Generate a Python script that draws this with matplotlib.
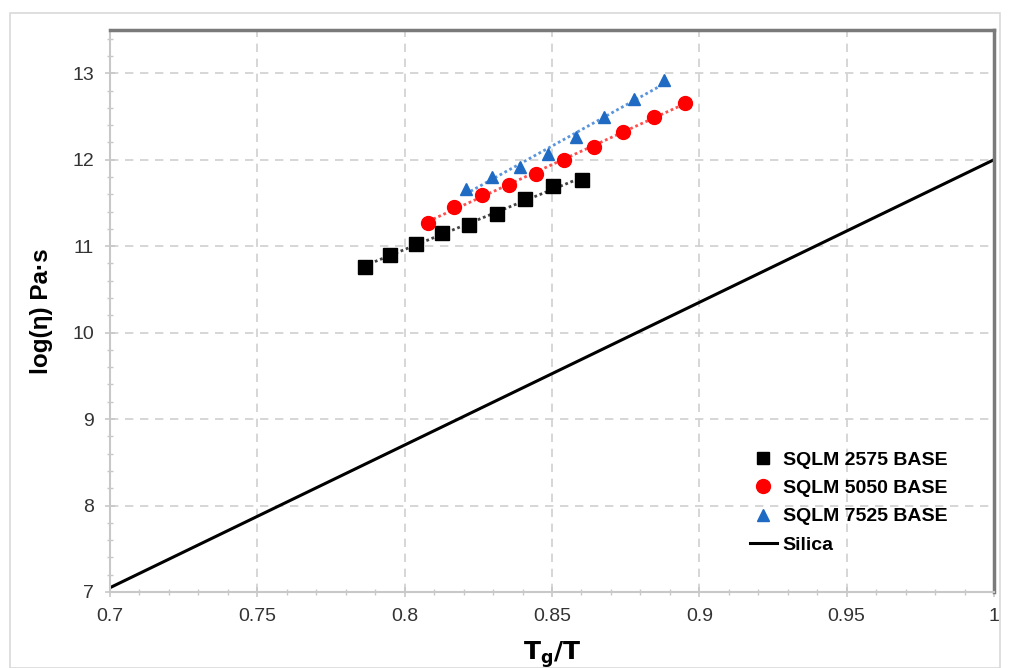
import numpy as np
import matplotlib
matplotlib.use("Agg")
import matplotlib.pyplot as plt
from matplotlib.lines import Line2D
from matplotlib.patches import Rectangle
from matplotlib.ticker import MultipleLocator, FuncFormatter

plt.rcParams['font.family'] = ['Liberation Sans', 'DejaVu Sans']

# Data
x_2575 = [0.7864, 0.7949, 0.8037, 0.8125, 0.8217, 0.8312, 0.8407, 0.8505, 0.8603]
y_2575 = [10.76, 10.90, 11.02, 11.15, 11.24, 11.37, 11.55, 11.69, 11.77]
x_5050 = [0.8080, 0.8167, 0.8261, 0.8354, 0.8447, 0.8542, 0.8642, 0.8741, 0.8845, 0.8953]
y_5050 = [11.27, 11.45, 11.59, 11.71, 11.84, 12.00, 12.15, 12.32, 12.49, 12.66]
x_7525 = [0.8207, 0.8297, 0.8391, 0.8486, 0.8580, 0.8678, 0.8777, 0.8879]
y_7525 = [11.66, 11.80, 11.92, 12.07, 12.26, 12.49, 12.70, 12.92]
x_silica = [0.7, 1.0]
y_silica = [7.05, 12.0]

labels = ["SQLM 2575 BASE", "SQLM 5050 BASE", "SQLM 7525 BASE", "Silica"]

fig = plt.figure(figsize=(10.1, 6.68), dpi=100)
ax = fig.add_axes([110/1010, 1 - 592/668, (994-110)/1010, (592-30)/668])

# figure border
fig.patches.append(Rectangle((10/1010, 0), 990/1010, 1 - 13/668, transform=fig.transFigure,
                             fill=False, edgecolor='#d9d9d9', linewidth=1.2))

ax.plot(x_silica, y_silica, color='black', lw=2.2, zorder=2)

series = [
    (x_2575, y_2575, 's', 'black', '#444444', 9.5),
    (x_5050, y_5050, 'o', '#ff0000', '#ff5050', 10),
    (x_7525, y_7525, '^', '#1f6bc4', '#5a95dc', 9),
]
for xs, ys, m, c, lc, ms in series:
    xs = np.array(xs); ys = np.array(ys)
    p = np.polyfit(xs, ys, 1)
    xx = np.array([xs.min(), xs.max()])
    ax.plot(xx, np.polyval(p, xx), linestyle=(0, (1, 1)), color=lc, lw=2.0, zorder=3)
    ax.plot(xs, ys, linestyle='none', marker=m, color=c, markersize=ms, zorder=4)

ax.set_xlim(0.7, 1.0)
ax.set_ylim(7, 13.5)
ax.xaxis.set_major_locator(MultipleLocator(0.05))
ax.xaxis.set_minor_locator(MultipleLocator(0.01))
ax.yaxis.set_major_locator(MultipleLocator(1))
ax.yaxis.set_minor_locator(MultipleLocator(0.2))
ax.xaxis.set_major_formatter(FuncFormatter(lambda v, p: ('%g' % round(v, 3))))
ax.yaxis.set_major_formatter(FuncFormatter(lambda v, p: ('%g' % v) if v <= 13 else ''))

ax.grid(True, which='major', linestyle=(0, (5, 4)), color='#d0d0d0', lw=1.2)
ax.set_axisbelow(True)

for s in ['left', 'bottom']:
    ax.spines[s].set_color('#c8c8c8')
    ax.spines[s].set_linewidth(1.5)
for s in ['top', 'right']:
    ax.spines[s].set_color('#7a7a7a')
    ax.spines[s].set_linewidth(2.5)

ax.tick_params(which='major', direction='inout', length=7, width=1.2, color='#c8c8c8',
               labelsize=14, labelcolor='#333333', pad=8)
ax.tick_params(which='minor', direction='inout', length=5, width=1.0, color='#c8c8c8')

ax.set_xlabel(r'$\mathbf{T_g/T}$', fontsize=18, labelpad=10)
ax.set_ylabel('log(η) Pa·s', fontsize=17.5, fontweight='bold', labelpad=14)

handles = [
    Line2D([], [], linestyle='none', marker='s', color='black', markersize=9),
    Line2D([], [], linestyle='none', marker='o', color='#ff0000', markersize=10),
    Line2D([], [], linestyle='none', marker='^', color='#1f6bc4', markersize=8),
    Line2D([], [], color='black', lw=2.2),
]
leg = ax.legend(handles, labels, loc='lower right', bbox_to_anchor=(0.967, 0.037), frameon=False,
                prop={'weight': 'bold', 'size': 14}, handlelength=1.4, handletextpad=0.3,
                labelspacing=0.55)

fig.savefig('out.png', dpi=100)
